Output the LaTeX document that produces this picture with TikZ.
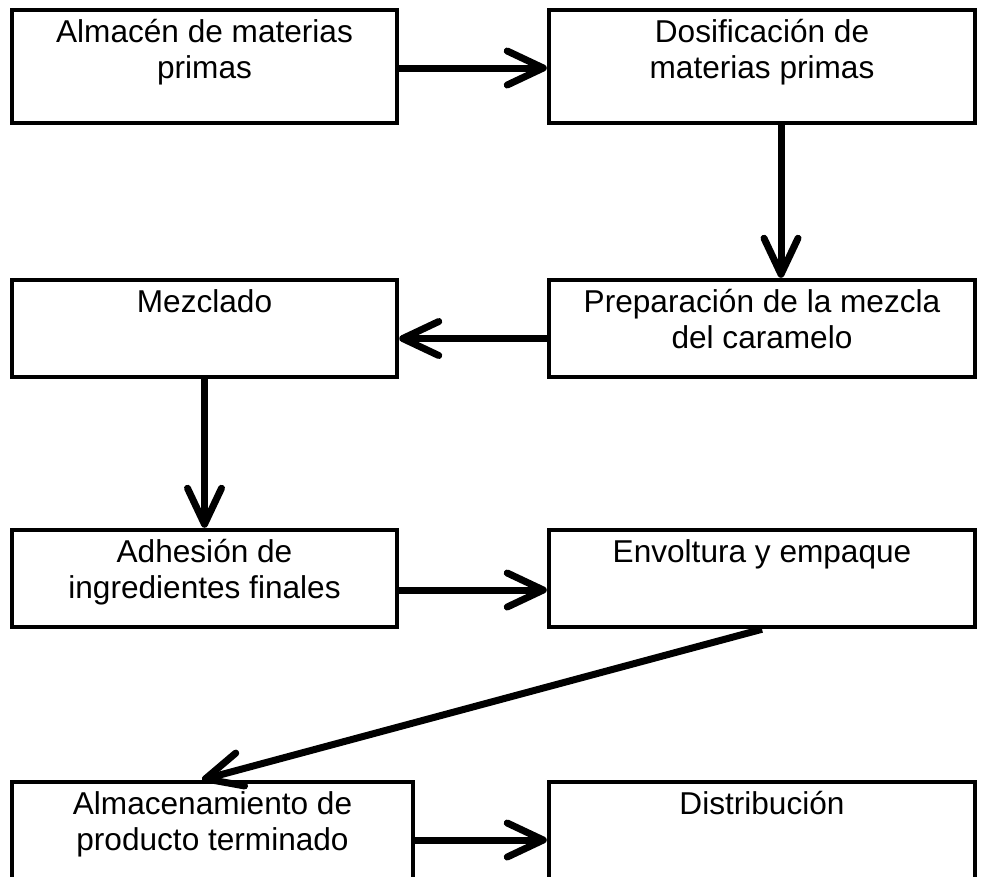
\documentclass[tikz,border=0pt]{standalone}
\usepackage{fontspec}
\setmainfont{Liberation Sans}
\usetikzlibrary{arrows.meta}
\newcommand{\topstrutx}{\rule{0pt}{26pt}}
\begin{document}
\begin{tikzpicture}[x=1pt,y=-1pt,
  box/.style={draw=black, fill=white, line width=4.5pt, rectangle, inner sep=0pt},
  txt/.style={anchor=north, align=center, inner sep=0pt, font=\fontsize{31.6}{36.4}\selectfont},
  arr/.style={line width=7pt, -{Straight Barb[length=36pt,width=34pt,round]}}]
\clip (0,0) rectangle (984,876);
\fill[white] (0,0) rectangle (984,876);
% boxes
\node[box, minimum width=385pt, minimum height=113pt] (b1) at (204.5,66.5) {};
\node[box, minimum width=426pt, minimum height=113pt] (b2) at (762,66.5) {};
\node[box, minimum width=385pt, minimum height=97pt] (b3) at (204.5,328.5) {};
\node[box, minimum width=426pt, minimum height=97pt] (b4) at (762,328.5) {};
\node[box, minimum width=385pt, minimum height=97pt] (b5) at (204.5,578.5) {};
\node[box, minimum width=426pt, minimum height=97pt] (b6) at (762,578.5) {};
\node[box, minimum width=401pt, minimum height=118pt] (b7) at (212.5,841) {};
\node[box, minimum width=426pt, minimum height=118pt] (b8) at (762,841) {};
% texts
\node[txt] (t1) at ([yshift=-8.6pt]b1.north) {\topstrutx Almacén de materias\\primas};
\node[txt] (t2) at ([yshift=-8.6pt]b2.north) {\topstrutx Dosificación de\\materias primas};
\node[txt] (t3) at ([yshift=-8.6pt]b3.north) {\topstrutx Mezclado};
\node[txt] (t4) at ([yshift=-8.6pt]b4.north) {\topstrutx Preparación de la mezcla\\del caramelo};
\node[txt] (t5) at ([yshift=-8.6pt]b5.north) {\topstrutx Adhesión de\\ingredientes finales};
\node[txt] (t6) at ([yshift=-8.6pt]b6.north) {\topstrutx Envoltura y empaque};
\node[txt] (t7) at ([yshift=-8.6pt]b7.north) {\topstrutx Almacenamiento de\\producto terminado};
\node[txt] (t8) at ([yshift=-8.6pt]b8.north) {\topstrutx Distribución};
% arrows
\draw[arr] ([yshift=-1.5pt]b1.east) -- ([yshift=-1.5pt]b2.west);
\draw[arr] ([xshift=19pt]b2.south) -- ([xshift=19pt]b4.north);
\draw[arr] ([yshift=-10pt]b4.west) -- ([yshift=-10pt]b3.east);
\draw[arr] (b3.south) -- (b5.north);
\draw[arr] ([yshift=-11.5pt]b5.east) -- ([yshift=-11.5pt]b6.west);
\draw[arr] (b6.south) -- ([xshift=-10.5pt]b7.north);
\draw[arr] ([yshift=1pt]b7.east) -- ([yshift=1pt]b8.west);
\end{tikzpicture}
\end{document}
